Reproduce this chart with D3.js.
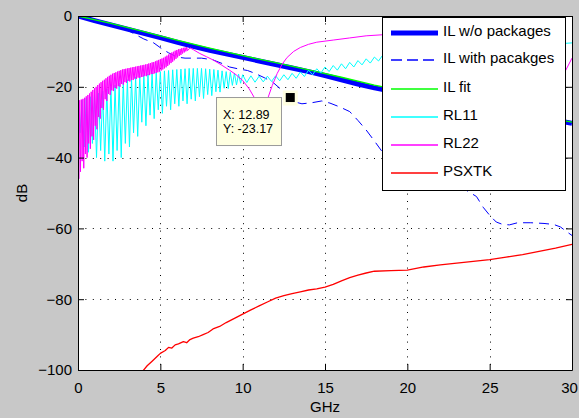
<!DOCTYPE html>
<html>
<head>
<meta charset="utf-8">
<script src="https://cdn.jsdelivr.net/npm/d3@7"></script>
<style>
  html, body { margin: 0; padding: 0; background: #c8c8c8; }
  svg { display: block; font-family: "Liberation Sans", Arial, sans-serif; }
</style>
</head>
<body>
<svg id="chart" width="579" height="418"></svg>
<script>
// Axis ticks
const xTicks = [0, 5, 10, 15, 20, 25, 30];
const yTicks = [-100, -80, -60, -40, -20, 0];

// Insertion loss without packages, [GHz, dB]
const ilWithout = [[0,0],[1,-1.3],[2,-2.5],[3,-3.7],[4,-4.9],[5,-6.1],[6,-7.4],[7,-8.6],[8,-9.7],[9,-10.7],
  [10,-11.7],[11,-12.7],[12,-13.7],[13,-14.7],[14,-15.7],[15,-16.8],[16,-18],[17,-19.2],[18,-20.3],[19,-21.2],
  [20,-22],[22,-23.8],[24,-25.4],[26,-27],[28,-28.6],[30,-30.3]];

// Insertion loss with packages
const ilWith = [[0,0],[1,-1.3],[2,-2.6],[3,-4],[4,-6.5],[4.6,-7.6],[5.1,-9.3],[5.5,-10.4],[6,-11.6],[6.5,-11.9],
  [7.5,-11.9],[8.2,-12.4],[8.8,-13.5],[9.2,-14.4],[9.8,-15],[10.3,-15.4],[10.8,-16.3],[11.3,-17.4],[11.8,-18.6],
  [12.3,-20.6],[12.89,-23.17],[13.2,-24.3],[13.6,-24.8],[14.2,-24.5],[14.8,-24],[15.3,-24.6],[15.9,-25.7],
  [16.5,-27],[17,-29.5],[17.5,-32.2],[18,-35.3],[18.5,-38.5],[19.5,-41.5],[20.5,-44],[21.5,-46],[22.5,-47.5],
  [23.5,-49],[24.2,-51],[24.6,-54],[25,-56.3],[25.4,-58.2],[25.8,-58.9],[26.2,-59],[26.7,-58.4],[27.5,-58.4],
  [28.3,-58.6],[28.9,-58.9],[29.3,-59.6],[29.7,-61],[30,-62]];

// Fitted insertion loss
const ilFit = [[0,0],[2,-2.1],[4,-4.4],[6,-6.8],[8,-9.1],[10,-11.2],[12,-13.2],[14,-15.2],[16,-17.3],
  [18,-19.5],[20,-21.4],[25,-25.8],[30,-30]];

// Return loss port 1 (ripple trace)
const rl11 = [[0,-24.5],[0.125,-33],[0.25,-23.8],[0.375,-37],[0.5,-23.2],[0.625,-38.5],[0.75,-22.8],[0.875,-36],
  [1,-22.3],[1.125,-40],[1.25,-21.8],[1.375,-38],[1.5,-21.2],[1.625,-41],[1.75,-20.6],[1.875,-39],
  [2,-20],[2.125,-41],[2.25,-19.5],[2.375,-38],[2.5,-19],[2.625,-40],[2.75,-18.5],[2.875,-36],
  [3,-18],[3.125,-37],[3.25,-17.6],[3.375,-33],[3.5,-17.2],[3.625,-34],[3.75,-16.9],[3.875,-30],
  [4,-16.6],[4.125,-31],[4.25,-16.4],[4.375,-28],[4.5,-16.1],[4.625,-29],[4.75,-15.9],[4.875,-26.5],
  [5,-15.7],[5.125,-27.5],[5.25,-15.5],[5.375,-25.5],[5.5,-15.4],[5.625,-26.5],[5.75,-15.2],[5.875,-24.8],
  [6,-15.1],[6.125,-25.5],[6.25,-15],[6.375,-24],[6.5,-14.9],[6.625,-24.8],[6.75,-14.8],[6.875,-23.5],
  [7,-14.8],[7.125,-24],[7.25,-14.8],[7.375,-22.8],[7.5,-14.8],[7.625,-23.3],[7.75,-14.9],[7.875,-22.2],
  [8,-15],[8.125,-22.5],[8.25,-15.1],[8.375,-21.4],[8.5,-15.3],[8.625,-21.5],[8.75,-15.5],[8.875,-20.4],
  [9,-15.7],[9.125,-20.5],[9.25,-15.9],[9.375,-19.6],[9.5,-16.1],[9.625,-19.5],[9.75,-16.4],[9.875,-19],
  [10,-16.6],[10.25,-18.8],[10.5,-16.9],[10.75,-18.7],[11,-17],[11.25,-18.6],[11.5,-17],[11.75,-18.5],
  [12,-16.9],[12.25,-18.3],[12.5,-16.6],[12.75,-18],[13,-16.2],[13.25,-17.6],[13.5,-15.8],[13.75,-17.1],
  [14,-15.3],[14.25,-16.6],[14.5,-14.9],[14.75,-16.1],[15,-14.4],[15.25,-15.7],[15.5,-14],[15.75,-15.3],
  [16,-13.5],[16.25,-14.9],[16.5,-13.1],[16.75,-14.4],[17,-12.6],[17.25,-13.8],[17.5,-12.1],[17.75,-13.3],
  [18,-11.6],[18.25,-12.7],[18.5,-11.1],[19,-11.8],[20,-10.5],[22,-10],[25,-9],[28,-8.2],[30,-7.6]];

// Return loss port 2 (dense ripple below 6.6 GHz, then smooth)
const rl22 = [
  [0,-24],[0.05,-46],[0.1,-23.8],[0.15,-44],[0.2,-23.6],[0.25,-41],[0.3,-23.4],[0.35,-43],
  [0.4,-23.1],[0.45,-39],[0.5,-22.7],[0.55,-40],[0.6,-22.3],[0.65,-36],[0.7,-21.9],[0.75,-37.5],
  [0.8,-21.4],[0.85,-34],[0.9,-20.9],[0.95,-35],[1,-20.4],[1.05,-31],[1.1,-20],[1.15,-32],
  [1.2,-19.5],[1.25,-28.5],[1.3,-19.1],[1.35,-29],[1.4,-18.7],[1.45,-26],[1.5,-18.3],[1.55,-26.5],
  [1.6,-18],[1.65,-23.5],[1.7,-17.6],[1.75,-24],[1.8,-17.2],[1.85,-22],[1.9,-16.9],[1.95,-22.3],
  [2,-16.6],[2.05,-21],[2.1,-16.3],[2.15,-21.2],[2.2,-16.1],[2.25,-20.3],[2.3,-15.9],[2.35,-20.5],
  [2.4,-15.7],[2.45,-19.8],[2.5,-15.5],[2.55,-20],[2.6,-15.3],[2.65,-19.2],[2.7,-15.1],[2.75,-19.4],
  [2.8,-15],[2.85,-18.7],[2.9,-14.9],[2.95,-18.9],[3,-14.8],[3.05,-18.3],[3.1,-14.7],[3.15,-18.5],
  [3.2,-14.6],[3.25,-18],[3.3,-14.5],[3.35,-18.1],[3.4,-14.4],[3.45,-17.7],[3.5,-14.3],[3.55,-17.8],
  [3.6,-14.2],[3.65,-17.4],[3.7,-14.1],[3.75,-17.5],[3.8,-14],[3.85,-17.2],[3.9,-13.9],[3.95,-17.2],
  [4,-13.8],[4.05,-16.9],[4.1,-13.7],[4.15,-17],[4.2,-13.6],[4.25,-16.7],[4.3,-13.4],[4.35,-16.7],
  [4.4,-13.3],[4.45,-16.4],[4.5,-13.1],[4.55,-16.4],[4.6,-13],[4.65,-16.2],[4.7,-12.8],[4.75,-16.1],
  [4.8,-12.6],[4.85,-15.9],[4.9,-12.4],[4.95,-15.7],[5,-12.2],[5.05,-15.4],[5.1,-12],[5.15,-15.1],
  [5.2,-11.8],[5.25,-14.8],[5.3,-11.5],[5.35,-14.5],[5.4,-11.2],[5.45,-14.1],[5.5,-10.9],[5.55,-13.7],
  [5.6,-10.6],[5.65,-13.3],[5.7,-10.3],[5.75,-12.9],[5.8,-10.1],[5.85,-12.5],[5.9,-9.8],[5.95,-12.1],
  [6,-9.6],[6.05,-11.7],[6.1,-9.4],[6.15,-11.3],[6.2,-9.3],[6.25,-11],[6.3,-9.1],[6.35,-10.6],
  [6.4,-9],[6.45,-10.3],[6.5,-8.9],[6.55,-10],[6.6,-8.8],[6.65,-9.8],
  [6.8,-9],[7,-9.5],[7.4,-10.6],[7.8,-11.5],[8.2,-12.4],
  [8.7,-13.8],[9.2,-15.3],[9.6,-16.6],[10,-18.2],[10.4,-20.6],[10.7,-23],[11,-26],[11.3,-25],
  [11.5,-23.6],[11.8,-19.6],[12.1,-16.2],[12.4,-13.6],[12.7,-11.7],[13.1,-10],[13.5,-8.9],[14,-8],
  [14.5,-7.4],[15.5,-6.8],[16.5,-6.2],[17.5,-5.6],[18.5,-5.3],[20,-5],[22,-5.4],[24,-6.5],[26,-8.5],
  [28,-12],[29,-14.8],[29.6,-15.5],[30,-11.9]];

// Crosstalk
const psxtk = [[3.9,-100.5],[4.2,-98.8],[4.5,-97.5],[4.8,-96.2],[5,-95.3],[5.3,-94.5],[5.5,-93.6],[5.7,-93.8],
  [5.9,-92.9],[6.1,-92.6],[6.4,-92],[6.6,-92.3],[6.8,-91.4],[7,-91],[7.3,-90.6],[7.6,-90],[7.9,-89.4],
  [8.2,-88.4],[8.6,-87.7],[9,-86.6],[9.5,-85.4],[10,-84.2],[10.5,-83],[11,-81.9],[11.5,-80.8],[12,-79.7],
  [12.5,-79],[13,-78.4],[13.5,-77.9],[14,-77.4],[14.5,-77.1],[15,-76.6],[15.5,-75.8],[16,-74.8],[16.5,-73.9],
  [17,-73.2],[17.5,-72.6],[18,-72.1],[19,-71.9],[20,-71.8],[21,-70.9],[22,-70.3],[23,-69.8],[24,-69.3],
  [25,-68.8],[26,-68.1],[27,-67.4],[28,-66.5],[29,-65.6],[30,-64.5]];

const seriesNames = ["IL w/o packages", "IL with pacakges", "IL fit", "RL11", "RL22", "PSXTK"];
const seriesData = [ilWithout, ilWith, ilFit, rl11, rl22, psxtk];
const seriesStyle = [
  { color: "#0000ff", width: 5, dash: null },
  { color: "#0000ff", width: 1, dash: "10,6" },
  { color: "#00ff00", width: 1.3, dash: null },
  { color: "#00ffff", width: 1, dash: null },
  { color: "#ff00ff", width: 1, dash: null },
  { color: "#ff0000", width: 1.3, dash: null }
];

// Data cursor
const tipPoint = [12.89, -23.17];

const svg = d3.select("#chart");
const plotLeft = 78, plotRight = 572, plotTop = 16, plotBottom = 370;
const x = d3.scaleLinear().domain([0, 30]).range([plotLeft, plotRight]);
const y = d3.scaleLinear().domain([-100, 0]).range([plotBottom, plotTop]);

svg.append("rect").attr("x", plotLeft).attr("y", plotTop)
  .attr("width", plotRight - plotLeft).attr("height", plotBottom - plotTop).attr("fill", "#fff");

// dotted grid
const grid = svg.append("g").attr("stroke", "#000").attr("stroke-width", 1).attr("stroke-dasharray", "1,6.4");
xTicks.filter(t => t > 0 && t < 30).forEach(t => {
  const px = Math.round(x(t)) + 0.5;
  grid.append("line").attr("x1", px).attr("x2", px).attr("y1", plotTop).attr("y2", plotBottom);
});
yTicks.filter(t => t > -100 && t < 0).forEach(t => {
  const py = Math.round(y(t)) + 0.5;
  grid.append("line").attr("x1", plotLeft).attr("x2", plotRight).attr("y1", py).attr("y2", py);
});

svg.append("clipPath").attr("id", "plot-clip").append("rect")
  .attr("x", plotLeft).attr("y", plotTop).attr("width", plotRight - plotLeft).attr("height", plotBottom - plotTop);

const line = d3.line().x(d => x(d[0])).y(d => y(d[1]));
const plot = svg.append("g").attr("clip-path", "url(#plot-clip)");
seriesData.forEach((data, i) => {
  const s = seriesStyle[i];
  plot.append("path").datum(data).attr("d", line)
    .attr("fill", "none").attr("stroke", s.color).attr("stroke-width", s.width)
    .attr("stroke-linejoin", "round")
    .attr("stroke-dasharray", s.dash);
});

// axes with inward ticks on all four sides
const fontSize = 15;
const xAxisG = svg.append("g").attr("transform", `translate(0,${plotBottom})`)
  .call(d3.axisBottom(x).tickValues(xTicks).tickSize(-6).tickSizeOuter(0).tickPadding(12));
svg.append("g").attr("transform", `translate(${plotLeft},0)`)
  .call(d3.axisLeft(y).tickValues(yTicks).tickSize(-6).tickSizeOuter(0).tickPadding(6));
svg.append("g").attr("transform", `translate(0,${plotTop})`)
  .call(d3.axisTop(x).tickValues(xTicks).tickSize(-6).tickSizeOuter(0).tickFormat(""));
svg.append("g").attr("transform", `translate(${plotRight},0)`)
  .call(d3.axisRight(y).tickValues(yTicks).tickSize(-6).tickSizeOuter(0).tickFormat(""));
svg.selectAll(".domain").attr("stroke", "#000");
svg.selectAll(".tick line").attr("stroke", "#000");
svg.selectAll(".tick text").attr("fill", "#000").attr("font-size", fontSize)
  .attr("font-family", '"Liberation Sans", Arial, sans-serif');
// keep the last x label inside the window
xAxisG.selectAll(".tick text").filter(d => d === 30).attr("dx", -3);

// axis titles
svg.append("text").attr("x", (plotLeft + plotRight) / 2).attr("y", 412).attr("text-anchor", "middle")
  .attr("font-size", fontSize).text("GHz");
svg.append("text").attr("transform", `translate(27,${(plotTop + plotBottom) / 2}) rotate(-90)`)
  .attr("text-anchor", "middle").attr("font-size", fontSize).text("dB");

// data cursor box and marker
const tx = x(tipPoint[0]), ty = y(tipPoint[1]);
svg.append("rect").attr("x", 216.5).attr("y", ty - 0.5).attr("width", 65).attr("height", 48)
  .attr("fill", "#ffffe1").attr("stroke", "#9a9a9a");
svg.append("rect").attr("x", tx - 7.5).attr("y", ty - 7.5).attr("width", 15).attr("height", 15)
  .attr("fill", "#ffffe1");
svg.append("rect").attr("x", tx - 4.5).attr("y", ty - 5).attr("width", 9).attr("height", 9)
  .attr("fill", "#000");
svg.append("text").attr("x", 223).attr("y", ty + 21).attr("font-size", 12.5)
  .text(`X: ${tipPoint[0].toFixed(2)}`);
svg.append("text").attr("x", 223).attr("y", ty + 35).attr("font-size", 12.5)
  .text(`Y: ${tipPoint[1].toFixed(2)}`);

// legend
const lg = svg.append("g");
lg.append("rect").attr("x", 382.5).attr("y", 17.5).attr("width", 183).attr("height", 173)
  .attr("fill", "#fff").attr("stroke", "#000");
const rowY = [33, 60, 89, 117, 145, 173];
seriesNames.forEach((name, i) => {
  const s = seriesStyle[i];
  lg.append("line").attr("x1", 391).attr("x2", 438).attr("y1", rowY[i]).attr("y2", rowY[i])
    .attr("stroke", s.color).attr("stroke-width", s.width === 5 ? 5 : 1.5)
    .attr("stroke-dasharray", s.dash ? "11,5" : null);
  lg.append("text").attr("x", 443).attr("y", rowY[i] + 3).attr("font-size", fontSize).text(name);
});
</script>
</body>
</html>
